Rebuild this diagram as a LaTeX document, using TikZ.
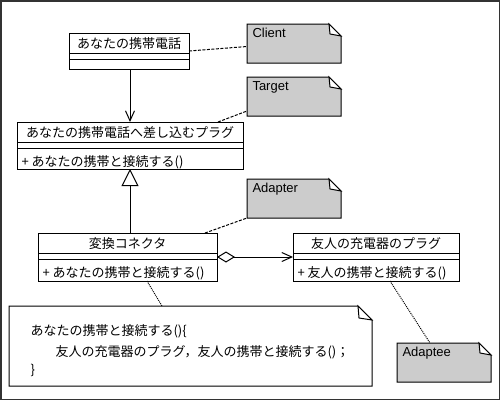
\documentclass[tikz,border=0pt]{standalone}
\usepackage{fontspec}
\setmainfont{Liberation Sans}
\newfontfamily\jpfont{Noto Sans CJK JP}
\usetikzlibrary{arrows.meta}
\definecolor{notegray}{gray}{0.8}
\definecolor{framegray}{gray}{0.2}
\tikzstyle{px}=[x=1pt,y=-1pt]
\tikzstyle{cls}=[draw,rectangle,inner sep=0pt,outer sep=0pt,anchor=north west]
\tikzstyle{note}=[rectangle,inner sep=0pt,outer sep=0pt,anchor=north west]
\tikzstyle{txt}=[inner sep=0pt,font=\jpfont\fontsize{13}{13}\selectfont]
\tikzstyle{lbl}=[inner sep=0pt,anchor=base west,font=\fontsize{13}{13}\selectfont]
\tikzstyle{lnk}=[dash pattern=on 3pt off 1.5pt]
\tikzstyle{dot}=[dash pattern=on 1pt off 1pt]
\tikzstyle{barb}=[-{Straight Barb[length=10pt,width=9pt]}]

\begin{document}
\begin{tikzpicture}[px,line width=1pt]
    \useasboundingbox (0,0) rectangle (500,400);
    \draw[framegray,line width=1.5pt] (0.75,0.75) rectangle (499.25,399.25);
    % classes
    \foreach \n/\xa/\ya/\w/\h/\t/\m in {client/69/33/120/36/{あなたの携帯電話}/{}, target/17/122/226/47/{あなたの携帯電話へ差し込むプラグ}/{+ あなたの携帯と接続する()}, adapter/38/233/179/48/{変換コネクタ}/{+ あなたの携帯と接続する()}, adaptee/293/233/166/48/{友人の充電器のプラグ}/{+ 友人の携帯と接続する()}} {
        \node[cls,minimum width=\w,minimum height=\h] (\n) at (\xa,\ya) {};
        \draw (\n.north west) ++(0,20) -- ++(\w,0) ++(0,6) -- ++(-\w,0);
        \path (\n.north) ++(0,15.5) node[txt,anchor=base] (\n-name) {\t} (\n.north west) ++(4,44) node[txt,anchor=base west] (\n-op) {\m};}
    % notes
    \foreach \n/\xa/\ya/\w/\h/\f/\c/\t in {clientnote/247/24/94/39/12/notegray/Client, targetnote/247/77/94/39/12/notegray/Target, adapternote/247/179/94/39/12/notegray/Adapter, adapteenote/397/343/94/39/12/notegray/Adaptee, codenote/9/306/363/80/14/white/{}} {
        \node[note,minimum width=\w,minimum height=\h] (\n) at (\xa,\ya) {};
        \draw[fill=\c] (\n.north west) -- ([xshift=-\f]\n.north east) -- ([yshift=-\f]\n.north east) -- (\n.south east) -- (\n.south west) -- cycle;
        \draw[fill=white] ([xshift=-\f]\n.north east) -- ([xshift=-\f+1,yshift=-\f+2]\n.north east) -- ([yshift=-\f]\n.north east) -- cycle;
        \path (\n.north west) ++(5,13.5) node[lbl] (\n-t) {\t};}
    \foreach \i/\x/\y/\t in {1/30/335.5/{あなたの携帯と接続する()\{}, 2/55/356/{友人の充電器のプラグ，友人の携帯と接続する()；}, 3/30/374/{\}}}
        \node[txt,anchor=base west] (code\i) at (\x,\y) {\t};
    % links
    \draw[barb] (target.north |- client.south) -- (target.north);
    \draw[-{Triangle[open,length=17pt,width=17pt]}] (target.south |- adapter.north) -- (target.south);
    \draw[{Diamond[open,length=18pt,width=11pt]}-{Straight Barb[length=10pt,width=9pt]}] (adapter.east) -- (adaptee.west);
    \draw[lnk] (client.east) -- ([yshift=-3]clientnote.west);
    \draw[lnk] ([xshift=-25]target.north east) -- ([yshift=5]targetnote.south west);
    \draw[lnk] ([xshift=-12]adapter.north east) -- (adapternote.south west);
    \draw[dot] ([xshift=19.5]adapter.south) -- ([xshift=-28.5]codenote.north);
    \draw[dot] ([xshift=14]adaptee.south) -- ([xshift=-14]adapteenote.north);
\end{tikzpicture}
\end{document}
